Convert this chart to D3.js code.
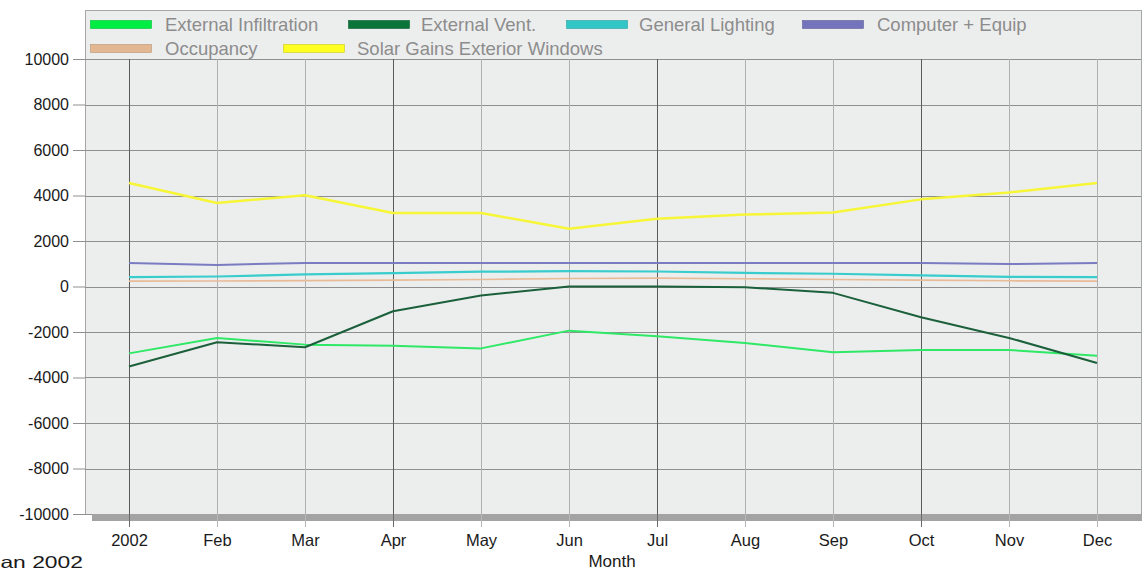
<!DOCTYPE html>
<html>
<head>
<meta charset="utf-8">
<script src="https://cdn.jsdelivr.net/npm/d3@7"></script>
<style>
  html, body { margin: 0; padding: 0; background: #ffffff; overflow: hidden; }
  svg { display: block; font-family: "Liberation Sans", Arial, sans-serif; }
</style>
</head>
<body>
<svg id="chart" width="1143" height="571"></svg>
<script>
// ---- data ----
const months = ["2002", "Feb", "Mar", "Apr", "May", "Jun", "Jul", "Aug", "Sep", "Oct", "Nov", "Dec"];
const yTicks = [10000, 8000, 6000, 4000, 2000, 0, -2000, -4000, -6000, -8000, -10000];
const seriesNames = ["External Infiltration", "External Vent.", "General Lighting", "Computer + Equip", "Occupancy", "Solar Gains Exterior Windows"];
const externalInfiltration = [-2940, -2260, -2555, -2600, -2720, -1940, -2190, -2480, -2890, -2790, -2790, -3040];
const externalVent = [-3520, -2450, -2670, -1090, -400, 0, 0, -30, -280, -1350, -2260, -3360];
const generalLighting = [410, 440, 530, 590, 650, 675, 660, 600, 560, 485, 425, 410];
const computerEquip = [1030, 950, 1030, 1030, 1030, 1030, 1030, 1030, 1030, 1030, 990, 1030];
const occupancy = [235, 240, 260, 280, 310, 350, 370, 340, 310, 280, 250, 235];
const solarGains = [4550, 3670, 4010, 3230, 3230, 2540, 2980, 3160, 3250, 3830, 4130, 4550];
const footerLeft = "Jan 2002";
const xTitle = "Month";

// ---- styles ----
const seriesStyle = [
  { data: externalInfiltration, color: "#2fe866", swatch: "#00ee44", width: 2 },
  { data: externalVent,         color: "#1b603a", swatch: "#0b7438", width: 2 },
  { data: generalLighting,      color: "#38cccc", swatch: "#33c6c6", width: 2.2 },
  { data: computerEquip,        color: "#7b7bc2", swatch: "#7474bc", width: 2 },
  { data: occupancy,            color: "#e8bb98", swatch: "#e3b792", width: 1.6 },
  { data: solarGains,           color: "#f6f637", swatch: "#ffff22", width: 2.5 }
];

const svg = d3.select("#chart");

const panel = { left: 85, right: 1141, top: 10, bottom: 514 };
const plotTop = 59;

const x = d3.scalePoint().domain(months).range([129, 1097]);
const y = d3.scaleLinear().domain([-10000, 10000]).range([514, 59]);

// panel background
svg.append("rect")
  .attr("x", panel.left + 0.5).attr("y", panel.top + 0.5)
  .attr("width", panel.right - panel.left).attr("height", panel.bottom - panel.top)
  .attr("fill", "#eceeee").attr("stroke", "#a6a6a6").attr("stroke-width", 1);

// horizontal gridlines
svg.append("g").selectAll("line").data(yTicks).join("line")
  .attr("x1", panel.left).attr("x2", panel.right)
  .attr("y1", d => Math.round(y(d)) + 0.5).attr("y2", d => Math.round(y(d)) + 0.5)
  .attr("stroke", "#8f8f8f").attr("stroke-width", 1);

// vertical gridlines
svg.append("g").selectAll("line").data(months).join("line")
  .attr("x1", d => Math.round(x(d)) + 0.5).attr("x2", d => Math.round(x(d)) + 0.5)
  .attr("y1", plotTop).attr("y2", 527)
  .attr("stroke", (d, i) => i % 3 === 0 ? "#5a5a5a" : "#b0b0b0")
  .attr("stroke-width", 1);

// bottom shadow bar
svg.append("rect")
  .attr("x", 92).attr("y", 514).attr("width", panel.right - 92 + 1).attr("height", 7)
  .attr("fill", "#a3a3a3");

// tick stubs over bar
svg.append("g").selectAll("line").data(months).join("line")
  .attr("x1", d => Math.round(x(d)) + 0.5).attr("x2", d => Math.round(x(d)) + 0.5)
  .attr("y1", 514).attr("y2", 527)
  .attr("stroke", (d, i) => i % 3 === 0 ? "#6a6a6a" : "#b8b8b8")
  .attr("stroke-width", 1);

// y axis via d3.axisLeft (plain hyphen minus like the reference)
const yAxis = d3.axisLeft(y).tickValues(yTicks).tickSize(12).tickPadding(4).tickFormat(d => String(d));
const yg = svg.append("g").attr("transform", `translate(${panel.left},0)`).call(yAxis);
yg.select(".domain").remove();
yg.selectAll(".tick line").attr("stroke", "#8f8f8f");
yg.selectAll(".tick text").attr("fill", "#1a1a1a").attr("font-size", 16)
  .attr("font-family", "'Liberation Sans', Arial, sans-serif");

// x axis labels via d3.axisBottom
const xAxis = d3.axisBottom(x).tickSize(0).tickPadding(0);
const xg = svg.append("g").attr("transform", "translate(0,531.5)").call(xAxis);
xg.select(".domain").remove();
xg.selectAll(".tick text").attr("fill", "#1a1a1a").attr("font-size", 16.5)
  .attr("dy", "0.85em")
  .attr("font-family", "'Liberation Sans', Arial, sans-serif");

// lines
const line = d3.line().x((d, i) => x(months[i])).y(d => y(d));
svg.append("g").selectAll("path").data(seriesStyle).join("path")
  .attr("d", s => line(s.data))
  .attr("fill", "none")
  .attr("stroke", s => s.color)
  .attr("stroke-width", s => s.width)
  .attr("stroke-linejoin", "round");

// legend
const legendPos = [
  { sx: 90, tx: 165, row: 0 },
  { sx: 348, tx: 421, row: 0 },
  { sx: 566, tx: 639, row: 0 },
  { sx: 802, tx: 877, row: 0 },
  { sx: 90, tx: 165, row: 1 },
  { sx: 283, tx: 357, row: 1 }
];
const lg = svg.append("g");
seriesNames.forEach((name, i) => {
  const p = legendPos[i];
  const cy = 25 + p.row * 24;
  lg.append("rect")
    .attr("x", p.sx + 0.5).attr("y", cy - 4.5).attr("width", 61).attr("height", 8)
    .attr("fill", seriesStyle[i].swatch).attr("stroke", d3.color(seriesStyle[i].swatch).darker(0.6)).attr("stroke-width", 0.6);
  lg.append("text")
    .attr("x", p.tx).attr("y", cy + 5.5)
    .attr("font-size", 18.5).attr("fill", "#8c8c8c")
    .text(name);
});

// footer texts
svg.append("text").attr("x", -11).attr("y", 567.5).attr("font-size", 16.5)
  .attr("textLength", 94).attr("lengthAdjust", "spacingAndGlyphs")
  .attr("fill", "#1a1a1a").text(footerLeft);
svg.append("text").attr("x", 612).attr("y", 567).attr("text-anchor", "middle").attr("font-size", 17).attr("fill", "#1a1a1a").text(xTitle);
</script>
</body>
</html>
